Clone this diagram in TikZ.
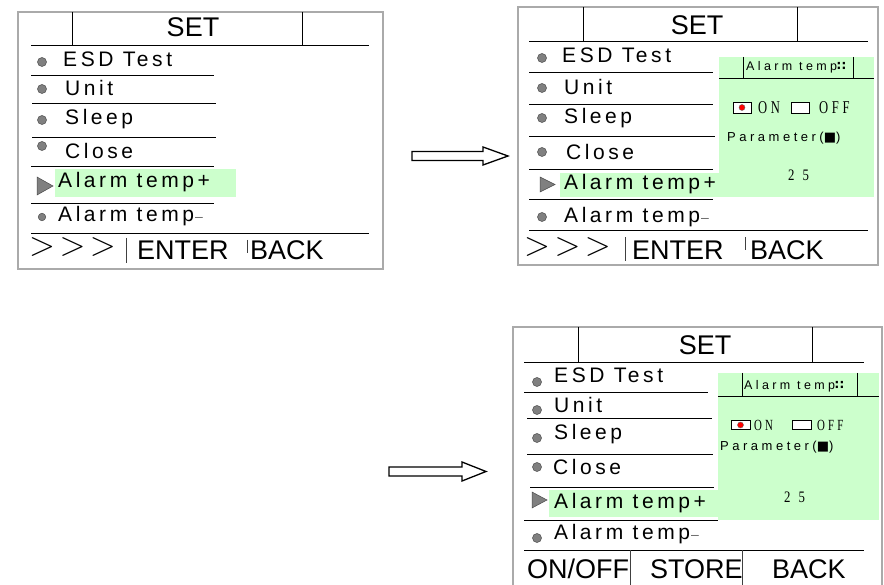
\RequirePackage{fix-cm}
\documentclass[tikz,border=0pt]{standalone}
\usepackage{fontspec}
\setmainfont{Liberation Sans}
\newfontfamily\itemf[LetterSpace=17]{Liberation Sans}
\newfontfamily\tinyf[LetterSpace=27]{Liberation Sans}
\newfontfamily\serf[LetterSpace=20,FakeStretch=0.7]{Liberation Serif}
\newfontfamily\numf[LetterSpace=50,FakeStretch=0.8]{Liberation Serif}
\newfontfamily\symf{DejaVu Sans}
\definecolor{hl}{RGB}{204,255,204}
\definecolor{framec}{RGB}{170,170,170}
\definecolor{bulc}{RGB}{128,128,128}
\tikzset{
  frame/.style={draw=framec, line width=1.4pt},
  rulel/.style={draw=black, line width=0.9pt},
  barl/.style={draw=black!75, line width=0.6pt},
  bul/.style={circle, draw=black!70, fill=bulc, line width=0.5pt, minimum size=9pt, inner sep=0pt},
  sbul/.style={bul, minimum size=7.5pt},
  tri/.style={draw=black!70, fill=bulc, line width=0.5pt},
  item/.style={anchor=base west, inner sep=0pt, font={\itemf\fontsize{21}{21}\selectfont}},
  title/.style={anchor=base, inner sep=0pt, font={\fontsize{27}{27}\selectfont}},
  big/.style={anchor=base west, inner sep=0pt, font={\fontsize{27}{27}\selectfont}},
  gt/.style={anchor=base west, inner sep=0pt, font={\fontsize{34}{34}\selectfont}},
  tiny/.style={anchor=base west, inner sep=0pt, font={\tinyf\fontsize{12.5}{12.5}\selectfont}},
  param/.style={anchor=base west, inner sep=0pt, font={\tinyf\fontsize{13}{13}\selectfont}},
  ser/.style={anchor=base west, inner sep=0pt, font={\serf\fontsize{18}{18}\selectfont}},
  sers/.style={anchor=base west, inner sep=0pt, font={\serf\fontsize{15.5}{15.5}\selectfont}},
  num/.style={anchor=base west, inner sep=0pt, font={\numf\fontsize{16}{16}\selectfont}},
  chk/.style={draw=black, fill=white, line width=0.8pt},
  reddot/.style={circle, draw=black!60, fill=red, line width=0.4pt, minimum size=6pt, inner sep=0pt},
  blockarrow/.style={draw=black, fill=white, line width=1.3pt, line join=miter},
}
\newcommand{\gts}{$>$\kern4.5pt$>$\kern4.5pt$>$}
\newcommand{\minus}{{\fontsize{14}{14}\selectfont\color{black!60}\kern1pt –}}
\newcommand{\colons}{{\symf\bfseries ∷}}
\newcommand{\blk}{{\symf ■}}
\begin{document}
\begin{tikzpicture}[x=1pt,y=-1pt]
\useasboundingbox (0,0) rectangle (884,585);
\fill[white] (0,0) rectangle (884,585);

% ================= Panel 1 =================
\draw[frame] (18,12) rectangle (383,269);
\draw[rulel] (72,12)--(72,45) (302,12)--(302,45);
\draw[rulel] (31,45)--(369,45);
\node[title] (aset) at (193,37) {SET};
\fill[hl] (55,169) rectangle (236,197);
\node[bul] (ab1) at (42,62) {};
\node[item] (at1) at (63,67) {ESD Test};
\draw[rulel] (31,75)--(214,75);
\node[bul] (ab2) at (42,89) {};
\node[item] (at2) at (65,96) {Unit};
\draw[rulel] (32,103)--(216,103);
\node[bul] (ab3) at (42,120) {};
\node[item] (at3) at (65,125) {Sleep};
\draw[rulel] (32,137)--(216,137);
\node[bul] (ab4) at (42,146) {};
\node[item] (at4) at (65,159) {Close};
\draw[rulel] (31,166)--(214,166);
\draw[tri] (37,177)--(37,195)--(53,186)--cycle;
\node[item] (at5) at (58,188) {Alarm temp+};
\draw[rulel] (31,203)--(214,203);
\node[sbul] (ab6) at (42,217) {};
\node[item] (at6) at (58,222) {Alarm temp\minus};
\draw[rulel] (31,233)--(369,233);
\node[gt] (agt) at (29,256) {\gts};
\draw[barl] (126,238)--(126,263);
\node[big] (aenter) at (137,260) {ENTER};
\draw[barl] (247,240)--(247,253);
\node[big] (aback) at (250,260) {BACK};

% ================= Arrow 1 =================
\draw[blockarrow] (412,151.5)--(483,151.5)--(483,147)--(508,156)--(483,165)--(483,160.5)--(412,160.5)--cycle;

% ================= Panel 2 =================
\draw[frame] (518,7) rectangle (878,265);
\draw[rulel] (583,7)--(583,41) (797,7)--(797,41);
\draw[rulel] (529,41)--(868,41);
\node[title] (bset) at (697,35) {SET};
\fill[hl] (560,173) rectangle (719,197);
\fill[hl] (719,57) rectangle (874,197);
\node[bul] (bb1) at (542,58) {};
\node[item] (bt1) at (562,63) {ESD Test};
\draw[rulel] (529,72)--(713,72);
\node[bul] (bb2) at (542,88) {};
\node[item] (bt2) at (564,95) {Unit};
\draw[rulel] (529,104)--(713,104);
\node[bul] (bb3) at (542,118) {};
\node[item] (bt3) at (564,124) {Sleep};
\draw[rulel] (529,136)--(715,136);
\node[bul] (bb4) at (542,152) {};
\node[item] (bt4) at (566,160) {Close};
\draw[rulel] (529,169)--(713,169);
\draw[tri] (540,177)--(540,192)--(555,184.5)--cycle;
\node[item] (bt5) at (564,190) {Alarm temp+};
\draw[rulel] (529,199)--(713,199);
\node[bul] (bb6) at (542,217) {};
\node[item] (bt6) at (564,223) {Alarm temp\minus};
\draw[rulel] (529,230)--(868,230);
\node[gt] (bgt) at (524,256) {\gts};
\draw[barl] (625,237)--(625,261);
\node[big] (benter) at (632,260) {ENTER};
\draw[barl] (745,237)--(745,250);
\node[big] (bback) at (750,260) {BACK};
% popup
\draw[rulel] (719,78)--(874,78);
\draw[rulel] (743,57)--(743,78) (853,57)--(853,78);
\node[tiny] (bpt) at (746,71) {Alarm temp\colons};
\draw[chk] (733,102) rectangle (751,113);
\node[reddot] (bdot) at (742,107.5) {};
\node[ser] (bon) at (758,114) {ON};
\draw[chk] (791,102) rectangle (809,113);
\node[ser] (boff) at (819,114) {OFF};
\node[param] (bpar) at (727,142) {Parameter(\blk)};
\node[num] (bval) at (788,181) {25};

% ================= Arrow 2 =================
\draw[blockarrow] (389,467)--(462,467)--(462,462)--(486,471.5)--(462,481)--(462,476)--(389,476)--cycle;

% ================= Panel 3 =================
\draw[frame] (513,586)--(513,327)--(882,327)--(882,586);
\draw[rulel] (578,327)--(578,362) (812,327)--(812,362);
\draw[rulel] (524,362)--(864,362);
\node[title] (cset) at (705,355) {SET};
\fill[hl] (549,490) rectangle (718,517);
\fill[hl] (718,373) rectangle (879,520);
\node[bul] (cb1) at (537,382) {};
\node[item] (ct1) at (554,383) {ESD Test};
\draw[rulel] (524,392)--(708,392);
\node[bul] (cb2) at (537,410) {};
\node[item] (ct2) at (554,412) {Unit};
\draw[rulel] (527,418)--(712,418);
\node[bul] (cb3) at (537,438) {};
\node[item] (ct3) at (554,439) {Sleep};
\draw[rulel] (527,454)--(713,454);
\node[bul] (cb4) at (537,467) {};
\node[item] (ct4) at (553,474) {Close};
\draw[rulel] (530,487)--(714,487);
\draw[tri] (532,492)--(532,508)--(547,500)--cycle;
\node[item] (ct5) at (554,508) {Alarm temp+};
\draw[rulel] (524,520)--(718,520);
\node[bul] (cb6) at (537,538) {};
\node[item] (ct6) at (554,539) {Alarm temp\minus};
\draw[rulel] (524,550)--(864,550);
\node[big] (conoff) at (527,578) {ON/OFF};
\draw[barl] (630,550)--(630,585);
\node[big] (cstore) at (650,578) {STORE};
\draw[barl] (742,550)--(742,585);
\node[big] (cback) at (772,578) {BACK};
% popup
\draw[rulel] (718,396)--(879,396);
\draw[rulel] (742,373)--(742,396) (857,373)--(857,396);
\node[tiny] (cpt) at (744,390) {Alarm temp\colons};
\draw[chk] (731,420.5) rectangle (750,429.5);
\node[reddot] (cdot) at (740.5,425) {};
\node[sers] (con) at (754,430) {ON};
\draw[chk] (792,420.5) rectangle (811,429.5);
\node[sers] (coff) at (817,430) {OFF};
\node[param] (cpar) at (720,450) {Parameter(\blk)};
\node[num] (cval) at (784,502) {25};
\end{tikzpicture}
\end{document}
